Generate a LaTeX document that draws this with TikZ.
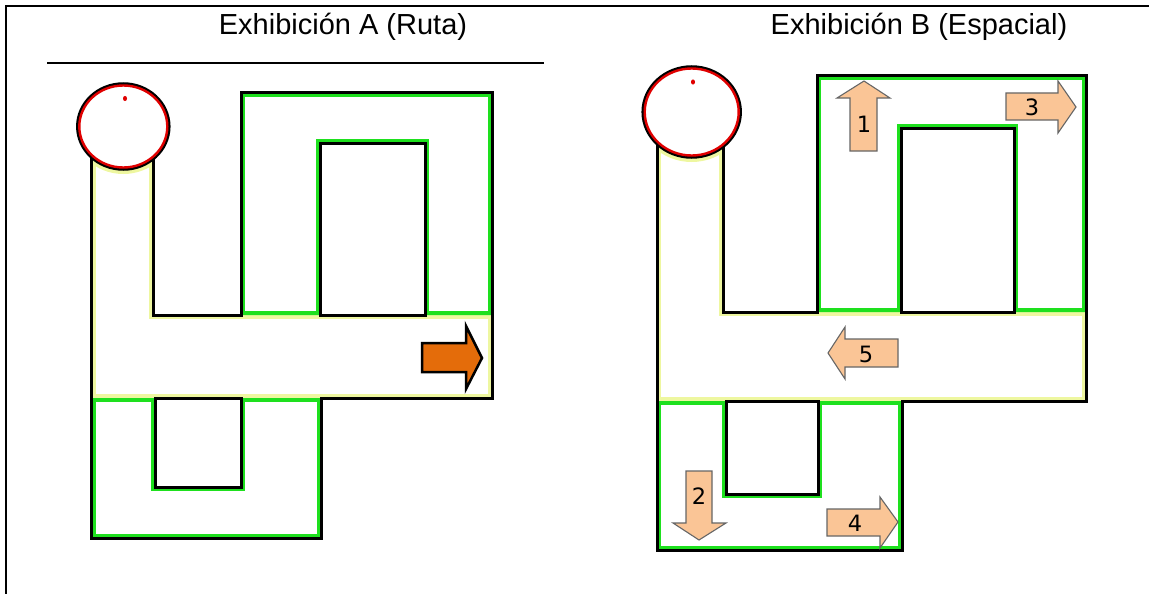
\documentclass[tikz,border=0pt]{standalone}
\usepackage{fontspec}
\setmainfont{Liberation Sans}
\newfontfamily\numfont{DejaVu Sans}
\definecolor{wallgreen}{HTML}{1EE01E}
\definecolor{pathyellow}{HTML}{EEF7A0}
\definecolor{tagfill}{HTML}{FAC596}
\definecolor{tagline}{HTML}{666666}
\definecolor{bigarrow}{HTML}{E46C0A}
\definecolor{ringred}{HTML}{E00000}
% tint a region along the inside of its border
\newcommand\tintregion[2]{\begin{scope}\clip #2;\draw[#1,line width=8pt,line join=miter] #2;\end{scope}}
\begin{document}
\begin{tikzpicture}[x=1pt,y=-1pt,
  wall/.style={draw=black,line width=3pt,line join=miter},
  title/.style={anchor=base,inner sep=0pt,font=\fontsize{29}{34}\selectfont},
  tag/.style={fill=tagfill,draw=tagline,line width=1.1pt,line join=miter},
  num/.style={inner sep=0pt,font=\numfont\fontsize{22.5}{26}\selectfont},
  ring/.style={fill=white,draw=black,line width=3.5pt}]
\useasboundingbox (0,0) rectangle (1149,594);

% page frame and heading rule
\draw[line width=2pt] (6,594) -- (6,6) -- (1149,6);
\draw[line width=1.2pt] (47,63) -- (544,63);

\node[title] (ta) at (343,35) {Exhibición A (Ruta)};
\node[title] (tb) at (919,35) {Exhibición B (Espacial)};

% ---------- layout A ----------
\begin{scope}
\clip (91.5,126) -- (91.5,398) -- (492,398) -- (492,315) -- (153,315) -- (153,126) -- cycle;
\draw[pathyellow,line width=8pt] (91.5,126) -- (91.5,398) -- (492,398) -- (492,315) -- (153,315) -- (153,126);
\draw[pathyellow,line width=10pt] (123.3,126.5) ellipse [x radius=45.5, y radius=42.5];
\end{scope}
\tintregion{wallgreen}{(241,315) -- (241,93) -- (492,93) -- (492,315) -- (425,315) -- (425,143) -- (320,143) -- (320,315) -- cycle}
\tintregion{wallgreen}{(91.5,398) -- (91.5,538) -- (321,538) -- (321,398) -- (241,398) -- (241,487) -- (155,487) -- (155,398) -- cycle}

\draw[wall] (91.5,126) -- (91.5,538) -- (321,538) -- (321,398) -- (492,398) -- (492,93) -- (241,93) -- (241,315) -- (153,315) -- (153,126);
\draw[wall] (320,143) rectangle (425,315);
\draw[wall] (155,398) rectangle (241,487);

\draw[ring] (123.3,126.5) ellipse [x radius=45.5, y radius=42.5];
\draw[ringred,line width=2.4pt] (123.3,126.5) ellipse [x radius=44, y radius=41];
\fill[ringred] (125,98.5) ellipse [x radius=2, y radius=2.6];

\draw[fill=bigarrow,draw=black,line width=2.5pt,line join=miter]
  (422,343) -- (466,343) -- (466,326) -- (482,358) -- (466,389) -- (466,372) -- (422,372) -- cycle;

% ---------- layout B ----------
\begin{scope}
\clip (657,112) -- (657,401) -- (1086,401) -- (1086,312) -- (723,312) -- (723,112) -- cycle;
\draw[pathyellow,line width=8pt] (657,112) -- (657,401) -- (1086,401) -- (1086,312) -- (723,312) -- (723,112);
\draw[pathyellow,line width=10pt] (691.7,112) ellipse [x radius=48.5, y radius=45];
\end{scope}
\tintregion{wallgreen}{(817,312) -- (817,76) -- (1086,76) -- (1086,312) -- (1014,312) -- (1014,128) -- (901,128) -- (901,312) -- cycle}
\tintregion{wallgreen}{(657,401) -- (657,550) -- (902,550) -- (902,401) -- (818,401) -- (818,494) -- (726,494) -- (726,401) -- cycle}

\draw[wall] (657,112) -- (657,550) -- (902,550) -- (902,401) -- (1086,401) -- (1086,76) -- (817,76) -- (817,312) -- (723,312) -- (723,112);
\draw[wall] (901,128) rectangle (1014,312);
\draw[wall] (726,401) rectangle (818,494);

\draw[ring] (691.7,112) ellipse [x radius=48.5, y radius=45];
\draw[ringred,line width=2.4pt] (691.7,112) ellipse [x radius=47, y radius=43.5];
\fill[ringred] (693,82) ellipse [x radius=2, y radius=2.6];

% numbered direction tags
\draw[tag] (850,151) -- (850,98) -- (837,98) -- (864,81) -- (890,98) -- (877,98) -- (877,151) -- cycle;
\node[num] (n1) at (864,124) {1};
\draw[tag] (686,471) -- (712,471) -- (712,523) -- (726,523) -- (699,540) -- (673,523) -- (686,523) -- cycle;
\node[num] (n2) at (699,496) {2};
\draw[tag] (1006,93) -- (1058,93) -- (1058,81) -- (1076,107) -- (1058,133) -- (1058,120) -- (1006,120) -- cycle;
\node[num] (n3) at (1032,107) {3};
\draw[tag] (827,509) -- (880,509) -- (880,497) -- (898,522) -- (880,548) -- (880,536) -- (827,536) -- cycle;
\node[num] (n4) at (855,523) {4};
\draw[tag] (898,339) -- (845,339) -- (845,327) -- (828,353) -- (845,379) -- (845,367) -- (898,367) -- cycle;
\node[num] (n5) at (866,354) {5};
\end{tikzpicture}
\end{document}
